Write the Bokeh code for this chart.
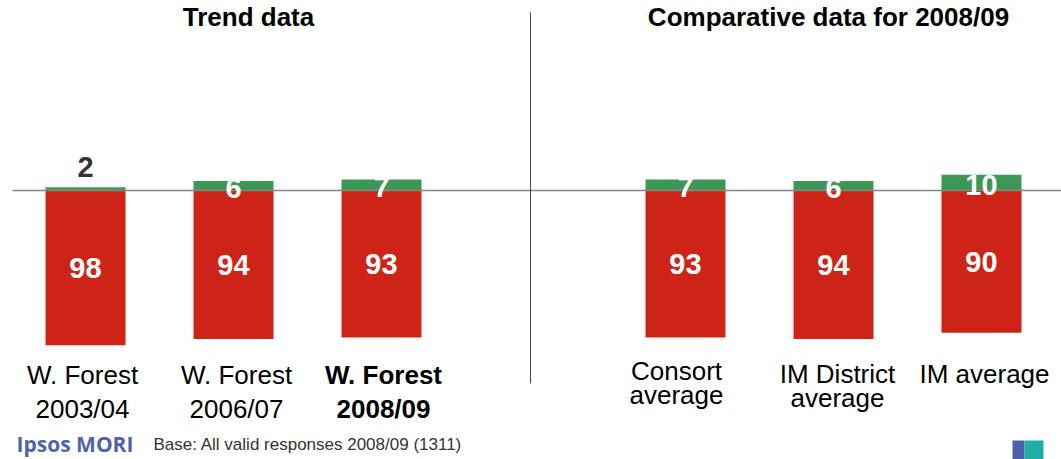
from bokeh.plotting import figure
from bokeh.models import Range1d, Label, BoxAnnotation, ColumnDataSource
from bokeh.embed import file_html
from bokeh.resources import INLINE
from bokeh.core.properties import value

# ---- data ----
categories = ["W. Forest\n2003/04", "W. Forest\n2006/07", "W. Forest\n2008/09",
              "Consort\naverage", "IM District\naverage", "IM average"]
groups = [0, 0, 0, 1, 1, 1]
highlight = [False, False, True, False, False, False]
positive = [2, 6, 7, 7, 6, 10]
negative = [98, 94, 93, 93, 94, 90]
titles = ["Trend data", "Comparative data for 2008/09"]
footnote = "Base: All valid responses 2008/09  (1311)"
brand = "Ipsos MORI"

RED = "#CD2417"
GREEN = "#3D9856"
FONT = "Liberation Sans"

W, H = 1061, 459
BASE_Y = 190          # pixel row of the zero line
PX_X = 148.0          # pixels per category slot
PX_Y = 1.58           # pixels per percentage point
GROUP_GAP = 1.054
x_start = -85 / PX_X
x_end = x_start + W / PX_X

xs = [i + GROUP_GAP * g for i, g in enumerate(groups)]

p = figure(width=W, height=H, output_backend="svg", toolbar_location=None,
           x_range=Range1d(x_start, x_end),
           y_range=Range1d(-(H - BASE_Y) / PX_Y, BASE_Y / PX_Y),
           min_border=0, outline_line_color=None)
p.axis.visible = False
p.grid.visible = False
p.background_fill_color = "white"
p.border_fill_color = "white"

src = ColumnDataSource(dict(
    x=xs,
    pos=positive,
    neg=[-v for v in negative],
    neg_mid=[-v / 2 for v in negative],
    neg_txt=[str(v) for v in negative],
))

bw = 80 / PX_X
p.vbar(x="x", top="pos", bottom=0, width=bw, source=src, fill_color=GREEN, line_color=None)
p.vbar(x="x", top=0, bottom="neg", width=bw, source=src, fill_color=RED, line_color=None)

# zero line
p.segment(x0=[x_start + 12 / PX_X], y0=[0], x1=[x_end], y1=[0],
          line_color="#858585", line_width=1.6)

# divider between the two panels
mid = (xs[2] + xs[3]) / 2 - 0.02
p.segment(x0=[mid], y0=[(BASE_Y - 12) / PX_Y], x1=[mid], y1=[(BASE_Y - 383) / PX_Y],
          line_color="#444444", line_width=1)

# red value labels
p.text(x="x", y="neg_mid", text="neg_txt", source=src, text_color="white",
       text_font=value(FONT), text_font_style="bold", text_font_size="29px",
       text_align="center", text_baseline="middle")

# green value labels
big_idx = [i for i, v in enumerate(positive) if v >= 4]
small_idx = [i for i, v in enumerate(positive) if v < 4]
src_big = ColumnDataSource(dict(x=[xs[i] for i in big_idx],
                                y=[positive[i] / 2 for i in big_idx],
                                t=[str(positive[i]) for i in big_idx]))
src_small = ColumnDataSource(dict(x=[xs[i] for i in small_idx],
                                  y=[positive[i] for i in small_idx],
                                  t=[str(positive[i]) for i in small_idx]))
p.text(x="x", y="y", text="t", source=src_big, text_color="white",
       text_font=value(FONT), text_font_style="bold", text_font_size="29px",
       text_align="center", text_baseline="middle", y_offset=2)
p.text(x="x", y="y", text="t", source=src_small, text_color="#333333",
       text_font=value(FONT), text_font_style="bold", text_font_size="29px",
       text_align="center", text_baseline="middle", y_offset=-20)

# category labels (two lines each)
line_pos = {0: (184, 34), 1: (183, 24)}
x_tweak = [-3, 3, 2, -9, 4, 3]
for i, cat in enumerate(categories):
    first, gap = line_pos[groups[i]]
    if cat.startswith("Consort"):
        first = 180
    for j, line in enumerate(cat.split("\n")):
        p.add_layout(Label(x=xs[i], y=0, text=line, x_offset=x_tweak[i],
                           y_offset=-(first + gap * j),
                           text_font=FONT, text_font_size="26px",
                           text_font_style="bold" if highlight[i] else "normal",
                           text_color="black", text_align="center",
                           text_baseline="middle"))

# panel titles
title_x = [248, 828]
for g, t in enumerate(titles):
    p.add_layout(Label(x=title_x[g], y=H - 1, x_units="screen", y_units="screen", text=t,
                       text_font=FONT, text_font_size="26px", text_font_style="bold",
                       text_color="black", text_align="center", text_baseline="top"))

# footer
p.add_layout(Label(x=16, y=H - 443, x_units="screen", y_units="screen", text=brand,
                   text_font="Open Sans", text_font_size="21px", text_font_style="bold",
                   text_color="#5063A8", text_baseline="middle"))
p.add_layout(Label(x=153, y=H - 444, x_units="screen", y_units="screen", text=footnote,
                   text_font=FONT, text_font_size="17px",
                   text_color="#333333", text_baseline="middle"))
p.add_layout(BoxAnnotation(left=1012, right=1024, top=H - 440, bottom=0,
                           left_units="screen", right_units="screen",
                           top_units="screen", bottom_units="screen",
                           fill_color="#4F5FAE", fill_alpha=1, line_color=None))
p.add_layout(BoxAnnotation(left=1024, right=1043, top=H - 440, bottom=0,
                           left_units="screen", right_units="screen",
                           top_units="screen", bottom_units="screen",
                           fill_color="#1FAFA6", fill_alpha=1, line_color=None))

open("out.html", "w").write(file_html(p, INLINE))
